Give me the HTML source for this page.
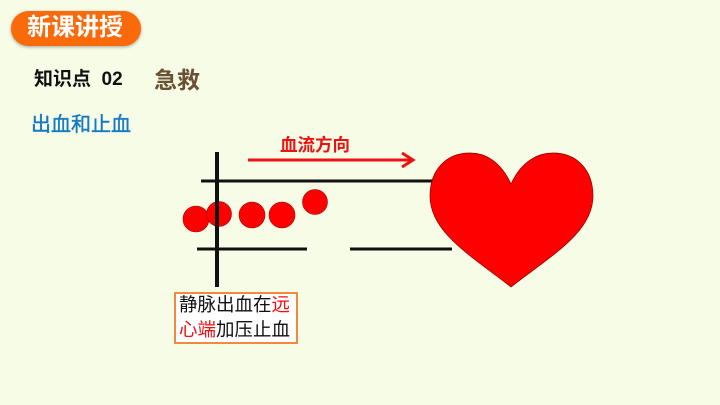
<!DOCTYPE html>
<html><head><meta charset="utf-8"><style>
body{margin:0;width:720px;height:405px;background:#f6fce6;position:relative;overflow:hidden;font-family:"Liberation Sans","Noto Sans CJK SC",sans-serif}
.t{position:absolute;white-space:nowrap}
</style></head><body>
<div style="position:absolute;left:11px;top:11px;width:130px;height:35px;border-radius:18px;background:#fb6a0a;box-shadow:0 1px 3px rgba(0,0,0,.35)"></div>
<div class="t" style="left:27px;top:13px;font-size:24px;line-height:30px;font-weight:bold;color:#fff">新课讲授</div>
<div class="t" style="left:34px;top:67px;font-size:19px;line-height:26px;font-weight:bold;color:#111">知识点&nbsp;&nbsp;02</div>
<div class="t" style="left:154px;top:65px;font-size:23px;line-height:30px;font-weight:bold;color:#6b5133">急救</div>
<div class="t" style="left:31px;top:112px;font-size:20px;line-height:26px;color:#1579c4;-webkit-text-stroke:0.4px #1579c4">出血和止血</div>
<div class="t" style="left:280px;top:133px;font-size:17.5px;line-height:24px;font-weight:bold;color:#ee1111">血流方向</div>
<svg width="720" height="405" style="position:absolute;left:0;top:0">
<line x1="248" y1="160" x2="412" y2="160" stroke="#ee1111" stroke-width="3"/>
<polyline points="402,153 413,160 402,167" fill="none" stroke="#ee1111" stroke-width="3"/>
<line x1="201" y1="181" x2="432" y2="181" stroke="#111" stroke-width="3"/>
<line x1="197" y1="249" x2="307" y2="249" stroke="#111" stroke-width="3"/>
<line x1="350" y1="249" x2="452" y2="249" stroke="#111" stroke-width="3"/>
<g fill="#ff0000" stroke="#900" stroke-width="0.6">
<circle cx="196" cy="219" r="13"/>
<circle cx="252" cy="215" r="13"/>
<circle cx="282" cy="215" r="13"/>
<circle cx="315" cy="202" r="12.5"/>
<circle cx="219" cy="214" r="12.5"/>
</g>
<line x1="217" y1="152" x2="217" y2="287" stroke="#111" stroke-width="4"/>
<path d="M511,184 C500,160 484,153 470,153 C446,153 430,170 430,196 C430,232 470,255 511,287 C552,255 593,232 593,196 C593,170 577,153 553,153 C539,153 522,160 511,184 Z" fill="#ff0000" stroke="#800" stroke-width="0.7"/>
</svg>
<div style="position:absolute;left:174px;top:292px;width:120px;height:48px;background:#fff;border:2px solid #f08a3c"></div>
<div class="t" style="left:179px;top:292px;font-size:18.5px;line-height:25px;color:#111">静脉出血在<span style="color:#ee1111">远</span><br><span style="color:#ee1111">心端</span>加压止血</div>
</body></html>
